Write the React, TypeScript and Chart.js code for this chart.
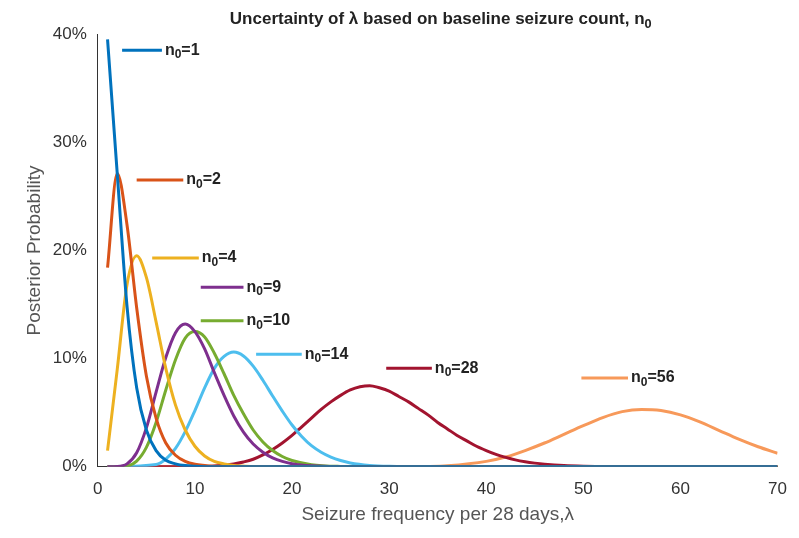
import { useEffect, useRef } from 'react';
import { Chart, registerables } from 'chart.js';

Chart.register(...registerables);

// posterior probability (%), as [lambda, value] pairs
const n1: [number, number][] = [[1, 39.5], [2, 27.1], [3, 14.9], [4, 7.3], [5, 3.4], [6, 1.5], [7, 0.6], [8, 0.27], [9, 0.11], [10, 0.05], [12, 0], [70, 0]];
const n2: [number, number][] = [[1, 18.4], [2, 27.1], [3, 22.4], [4, 14.7], [5, 8.4], [6, 4.5], [7, 2.2], [8, 1.07], [9, 0.5], [10, 0.23], [12, 0.04], [14, 0], [70, 0]];
const n4: [number, number][] = [[1, 1.5], [2, 9.0], [3, 16.8], [4, 19.5], [5, 17.5], [6, 13.4], [7, 9.1], [8, 5.7], [9, 3.4], [10, 1.9], [11, 1.0], [12, 0.5], [13, 0.27], [14, 0.13], [16, 0.03], [18, 0], [70, 0]];
const n9: [number, number][] = [[1, 0], [2, 0.02], [3, 0.27], [4, 1.3], [5, 3.6], [6, 6.9], [7, 10.1], [8, 12.4], [9, 13.2], [10, 12.5], [11, 10.9], [12, 8.7], [13, 6.6], [14, 4.7], [15, 3.2], [16, 2.1], [17, 1.35], [18, 0.83], [19, 0.5], [20, 0.29], [22, 0.09], [25, 0.01], [28, 0], [70, 0]];
const n10: [number, number][] = [[1, 0], [3, 0.08], [4, 0.53], [5, 1.8], [6, 4.1], [7, 7.1], [8, 9.9], [9, 11.9], [10, 12.5], [11, 12.0], [12, 10.5], [13, 8.6], [14, 6.6], [15, 4.9], [16, 3.4], [17, 2.3], [18, 1.5], [19, 0.95], [20, 0.58], [22, 0.2], [25, 0.03], [28, 0], [70, 0]];
const n14: [number, number][] = [[1, 0], [6, 0.22], [7, 0.71], [8, 1.7], [9, 3.25], [10, 5.2], [11, 7.3], [12, 9.1], [13, 10.2], [14, 10.6], [15, 10.24], [16, 9.3], [17, 8.0], [18, 6.55], [19, 5.15], [20, 3.86], [21, 2.8], [22, 1.95], [23, 1.35], [24, 0.9], [25, 0.58], [26, 0.36], [28, 0.13], [30, 0.04], [34, 0], [70, 0]];
const n28: [number, number][] = [[1, 0], [10, 0], [12, 0.08], [14, 0.27], [15, 0.45], [16, 0.7], [17, 1.1], [18, 1.6], [19, 2.2], [20, 2.9], [21, 3.7], [22, 4.5], [23, 5.3], [24, 6.0], [25, 6.6], [26, 7.1], [27, 7.4], [28, 7.5], [29, 7.3], [30, 7.0], [31, 6.5], [32, 6.0], [33, 5.4], [34, 4.8], [35, 4.1], [36, 3.5], [37, 2.9], [38, 2.4], [39, 1.9], [40, 1.5], [41, 1.15], [42, 0.87], [43, 0.64], [44, 0.47], [45, 0.34], [46, 0.24], [48, 0.11], [50, 0.05], [55, 0], [70, 0]];
const n56: [number, number][] = [[1, 0], [30, 0], [34, 0.03], [36, 0.1], [40, 0.5], [42, 0.9], [44, 1.5], [46, 2.2], [48, 3.0], [50, 3.8], [52, 4.55], [54, 5.1], [56, 5.3], [58, 5.2], [60, 4.8], [62, 4.15], [64, 3.35], [66, 2.55], [68, 1.85], [70, 1.25]];

const seriesData = [n1, n2, n4, n9, n10, n14, n28, n56];
const seriesN = ['1', '2', '4', '9', '10', '14', '28', '56'];
const colors = ['#0072BD', '#D95319', '#EDB120', '#7E2F8E', '#77AC30', '#4DBEEE', '#A2142F', '#F7995A'];
// inline label anchors: [x start, x end, y] in data units
const labelAnchors: [number, number, number][] = [
  [2.5, 6.6, 38.5], [4.0, 8.8, 26.5], [5.6, 10.4, 19.3], [10.6, 15, 16.6],
  [10.6, 15, 13.5], [16.3, 21, 10.4], [29.7, 34.4, 9.1], [49.8, 54.6, 8.2],
];
const xTicks = [0, 10, 20, 30, 40, 50, 60, 70];
const yTicks = [0, 10, 20, 30, 40];

const FONT = '"Liberation Sans", Arial, sans-serif';

const drawSub = (ctx: CanvasRenderingContext2D, x: number, y: number, base: string, sub: string, rest: string, size: number) => {
  ctx.font = `bold ${size}px ${FONT}`;
  ctx.textBaseline = 'middle';
  ctx.textAlign = 'left';
  ctx.fillText(base, x, y);
  let cx = x + ctx.measureText(base).width;
  ctx.font = `bold ${size * 0.75}px ${FONT}`;
  ctx.fillText(sub, cx, y + size * 0.3);
  cx += ctx.measureText(sub).width;
  ctx.font = `bold ${size}px ${FONT}`;
  ctx.fillText(rest, cx, y);
};

const labelPlugin = {
  id: 'inlineLabels',
  afterDatasetsDraw(chart: any) {
    const { ctx, scales } = chart;
    ctx.save();
    labelAnchors.forEach(([a, b, v], i) => {
      const x1 = scales.x.getPixelForValue(a);
      const x2 = scales.x.getPixelForValue(b);
      const y = scales.y.getPixelForValue(v);
      ctx.strokeStyle = colors[i];
      ctx.lineWidth = 3;
      ctx.beginPath();
      ctx.moveTo(x1, y);
      ctx.lineTo(x2, y);
      ctx.stroke();
      ctx.fillStyle = '#222';
      drawSub(ctx, x2 + 3, y, 'n', '0', '=' + seriesN[i], 16);
    });
    // title
    ctx.fillStyle = '#222';
    const t = 'Uncertainty of λ based on baseline seizure count, ';
    ctx.font = `bold 17px ${FONT}`;
    const w = ctx.measureText(t).width + 20;
    const cx = 434;
    drawSub(ctx, cx - w / 2, 11, t, '', '', 17);
    drawSub(ctx, cx - w / 2 + w - 20, 11, 'n', '0', '', 17);
    ctx.restore();
  },
};

const App = () => {
  const chartRef = useRef<HTMLCanvasElement>(null);

  useEffect(() => {
    if (!chartRef.current) return;
    const chart = new Chart(chartRef.current, {
      type: 'line',
      data: {
        datasets: seriesData.map((d, i) => ({
          label: 'n0=' + seriesN[i],
          data: d.map(([x, y]) => ({ x, y })),
          borderColor: colors[i],
          backgroundColor: colors[i],
          borderWidth: 3,
          pointRadius: 0,
          tension: 0.4,
          cubicInterpolationMode: 'monotone' as const,
        })),
      },
      options: {
        animation: false,
        responsive: false,
        layout: { padding: { top: 26, right: 4, left: 11, bottom: 0 } },
        plugins: { legend: { display: false }, tooltip: { enabled: false } },
        scales: {
          x: {
            type: 'linear',
            min: 0,
            max: 70,
            afterBuildTicks: (s: any) => { s.ticks = xTicks.map((v) => ({ value: v })); },
            grid: { display: false },
            border: { color: '#333', width: 1 },
            ticks: { color: '#333', font: { family: FONT, size: 17 }, padding: 4, maxRotation: 0 },
            title: { display: true, text: 'Seizure frequency per 28 days,λ', color: '#555', font: { family: FONT, size: 19 }, padding: { top: 0 } },
          },
          y: {
            min: 0,
            max: 40,
            afterBuildTicks: (s: any) => { s.ticks = yTicks.map((v) => ({ value: v })); },
            grid: { display: false },
            border: { color: '#333', width: 1 },
            ticks: { color: '#333', font: { family: FONT, size: 17 }, callback: (v: any) => v + '%' },
            title: { display: true, text: 'Posterior Probability', color: '#555', font: { family: FONT, size: 19 } },
          },
        },
      },
      plugins: [labelPlugin],
    });
    return () => chart.destroy();
  }, []);

  return <canvas ref={chartRef} width={783} height={522} style={{ width: 783, height: 522, display: 'block' }} />;
};

export default App;
